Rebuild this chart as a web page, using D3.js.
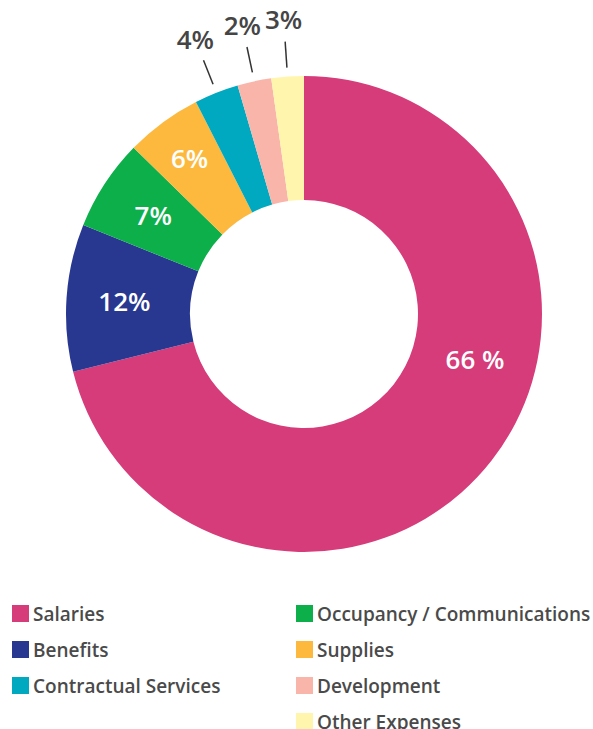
<!DOCTYPE html>
<html>
<head>
<meta charset="utf-8">
<script src="https://cdn.jsdelivr.net/npm/d3@7"></script>
<style>
  html, body { margin: 0; padding: 0; background: #fff; }
  #chart { width: 593px; height: 729px; }
  text { font-family: "Open Sans", "Lato", sans-serif; }
</style>
</head>
<body>
<div id="chart"></div>
<script>
// expense categories, clockwise from 12 o'clock
var categories = ["Salaries", "Benefits", "Occupancy / Communications", "Supplies",
                  "Contractual Services", "Development", "Other Expenses"];
// slice shares as drawn (percent of circle)
var shares = [71.1, 10.0, 6.2, 5.2, 3.0, 2.3, 2.2];
// printed labels
var labels = ["66 %", "12%", "7%", "6%", "4%", "2%", "3%"];
var colors = ["#d63b7a", "#283891", "#0daf4b", "#fdb93e", "#00a9bf", "#f9b5a9", "#fff5ad"];
// legend order (two columns)
var legendLeft = ["Salaries", "Benefits", "Contractual Services"];
var legendRight = ["Occupancy / Communications", "Supplies", "Development", "Other Expenses"];

var chartDiv = document.getElementById("chart");
var width = 593, height = 729;
var svg = d3.select(chartDiv).append("svg")
  .attr("width", width)
  .attr("height", height);

var cx = 304, cy = 314;
var outerR = 238, innerR = 114;

var color = d3.scaleOrdinal().domain(categories).range(colors);

var data = categories.map(function(c, i) {
  return { name: c, value: shares[i], label: labels[i] };
});

var pie = d3.pie().sort(null).value(function(d) { return d.value; });
var arcs = pie(data);

var arc = d3.arc().innerRadius(innerR).outerRadius(outerR);

var g = svg.append("g").attr("transform", "translate(" + cx + "," + cy + ")");

g.selectAll("path")
  .data(arcs)
  .enter()
  .append("path")
    .attr("d", arc)
    .attr("fill", function(d) { return color(d.data.name); });

function polar(angle, r) {
  return [Math.sin(angle) * r, -Math.cos(angle) * r];
}
function mid(d) { return (d.startAngle + d.endAngle) / 2; }

// inside labels for the big slices, leader lines for the small ones
var inside = arcs.filter(function(d) { return d.data.value >= 4; });
var outside = arcs.filter(function(d) { return d.data.value < 4; });

g.selectAll("text.inside")
  .data(inside)
  .enter()
  .append("text")
    .attr("class", "inside")
    .attr("transform", function(d, i) {
      // the big slice gets its label lower on the right side
      var a = i === 0 ? d.startAngle + (d.endAngle - d.startAngle) * 0.41 : mid(d);
      var r = i === 0 ? 177 : (i === 3 ? 193 : 180);
      var p = polar(a, r);
      return "translate(" + p[0] + "," + p[1] + ")";
    })
    .attr("text-anchor", "middle")
    .attr("dy", "0.36em")
    .attr("fill", "#fff")
    .attr("font-size", 26)
    .attr("font-weight", 600)
    .text(function(d) { return d.data.label; });

g.selectAll("line.leader")
  .data(outside)
  .enter()
  .append("line")
    .attr("class", "leader")
    .attr("x1", function(d) { return polar(mid(d), 247)[0]; })
    .attr("y1", function(d) { return polar(mid(d), 247)[1]; })
    .attr("x2", function(d) { return polar(mid(d), 273)[0]; })
    .attr("y2", function(d) { return polar(mid(d), 273)[1]; })
    .attr("stroke", "#333")
    .attr("stroke-width", 1.5);

g.selectAll("text.outside")
  .data(outside)
  .enter()
  .append("text")
    .attr("class", "outside")
    .attr("transform", function(d) {
      var p = polar(mid(d), 295);
      return "translate(" + p[0] + "," + p[1] + ")";
    })
    .attr("text-anchor", "middle")
    .attr("dy", "0.36em")
    .attr("fill", "#454545")
    .attr("font-size", 26)
    .attr("font-weight", 600)
    .text(function(d) { return d.data.label; });

// legend
var rowY = d3.scalePoint().domain([0, 1, 2, 3]).range([605, 713]);

function drawLegend(items, x) {
  var lg = svg.append("g");
  var row = lg.selectAll("g")
    .data(items)
    .enter()
    .append("g")
      .attr("transform", function(d, i) { return "translate(" + x + "," + rowY(i) + ")"; });
  row.append("rect")
    .attr("width", 17)
    .attr("height", 17)
    .attr("fill", function(d) { return color(d); });
  row.append("text")
    .attr("x", 21)
    .attr("y", 16)
    .attr("fill", "#4a4a4a")
    .attr("font-size", 19)
    .attr("font-weight", 600)
    .text(function(d) { return d; });
}

drawLegend(legendLeft, 12);
drawLegend(legendRight, 296);
</script>
</body>
</html>
